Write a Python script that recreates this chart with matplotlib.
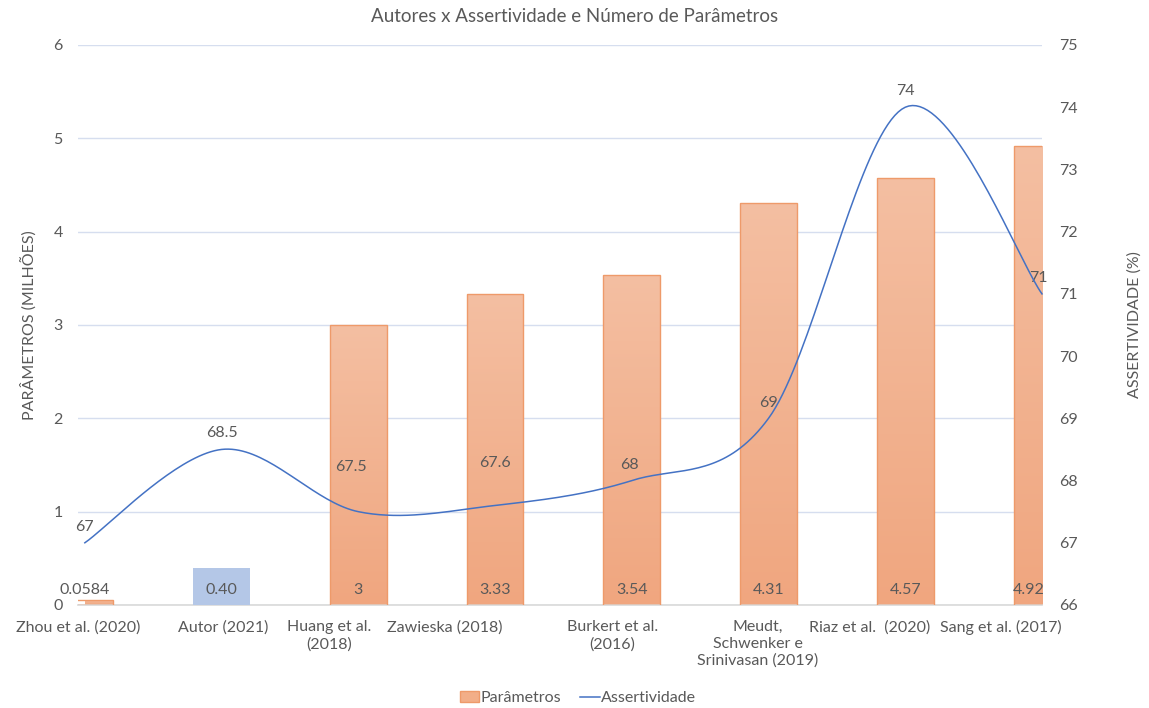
import numpy as np
import matplotlib.pyplot as plt
from matplotlib.patches import Patch
from matplotlib.lines import Line2D
from matplotlib.colors import LinearSegmentedColormap

plt.rcParams['font.family'] = ['Lato', 'DejaVu Sans']

# data
autores = ['Zhou et al. (2020)', 'Autor (2021)', 'Huang et al.\n(2018)', 'Zawieska (2018)',
           'Burkert et al.\n(2016)', 'Meudt,\nSchwenker e\nSrinivasan (2019)',
           'Riaz et al.  (2020)', 'Sang et al. (2017)']
parametros = [0.0584, 0.40, 3, 3.33, 3.54, 4.31, 4.57, 4.92]
param_labels = ['0.0584', '0.40', '3', '3.33', '3.54', '4.31', '4.57', '4.92']
assertividade = [67, 68.5, 67.5, 67.6, 68, 69, 74, 71]
assert_labels = ['67', '68.5', '67.5', '67.6', '68', '69', '74', '71']

# layout bits (not data)
tick_pos = [-0.05, 1.01, 1.79, 2.63, 3.86, 4.92, 5.74, 6.70]
bar_label_x = [0.0, 1, 2, 3, 4, 5, 6, 6.9]
line_label_dy = [16, 16, 45, 42, 16, 15, 16, 16]
line_label_dx = [0, 0, -7, 0, -2, 0, 0, -4]

grey = '#595959'
orange_cmap = LinearSegmentedColormap.from_list('og', ['#F4BFA2', '#F0A67F'])

fig = plt.figure(figsize=(11.49, 7.08), dpi=100)
ax = fig.add_axes([78 / 1149, 1 - 605 / 708, (1042 - 78) / 1149, (605 - 45) / 708])
xmin, xmax = 0, 7

x = np.arange(len(autores))
bars = ax.bar(x, parametros, width=0.414, facecolor='none', edgecolor='#EE9A6A',
              linewidth=1.0, zorder=3)
for i, b in enumerate(bars):
    if autores[i].startswith('Autor'):
        b.set_facecolor('#B4C7E7')
        b.set_edgecolor('none')
        continue
    grad = np.linspace(0, 1, 256).reshape(-1, 1)
    x0 = max(b.get_x(), xmin)
    x1 = min(b.get_x() + b.get_width(), xmax)
    im = ax.imshow(grad, cmap=orange_cmap, aspect='auto', origin='upper',
                   extent=[x0, x1, 0, b.get_height()], zorder=2)
    im.set_clip_path(b)

ax.set_xlim(xmin, xmax)
ax.set_ylim(0, 6)
ax.set_yticks(range(0, 7))
ax.set_axisbelow(True)
ax.grid(axis='y', color='#D6DEEF', linewidth=1)
for s in ['top', 'left', 'right']:
    ax.spines[s].set_visible(False)
ax.spines['bottom'].set_color('#D9D9D9')
ax.spines['bottom'].set_linewidth(1.2)
ax.tick_params(axis='y', length=0, pad=11, labelsize=11.5, labelcolor=grey)
ax.set_xticks(tick_pos)
ax.set_xticklabels(autores, fontsize=11.5, color=grey, linespacing=1.25)
ax.tick_params(axis='x', length=0, pad=11)
ax.set_ylabel('PARÂMETROS (MILHÕES)', fontsize=11.5, color=grey, labelpad=12)

for xi, lab in zip(bar_label_x, param_labels):
    ax.text(xi, 0.16, lab, ha='center', va='center', fontsize=11.5, color=grey, zorder=5)

ax2 = ax.twinx()
ax2.set_ylim(66, 75)
ax2.set_yticks(range(66, 76))
for s in ['top', 'left', 'right', 'bottom']:
    ax2.spines[s].set_visible(False)
ax2.tick_params(axis='y', length=0, pad=12, labelsize=11.5, labelcolor=grey)
ax2.set_ylabel('ASSERTIVIDADE (%)', fontsize=11.5, color=grey, labelpad=36)

# smoothed line (Catmull-Rom, like Excel's smooth line)
px = np.array(x, dtype=float)
py = np.array(assertividade, dtype=float)
ext_x = np.concatenate([[px[0]], px, [px[-1]]])
ext_y = np.concatenate([[py[0]], py, [py[-1]]])
cx, cy = [], []
for i in range(1, len(ext_x) - 2):
    t = np.linspace(0, 1, 40)
    p0, p1, p2, p3 = [np.array([ext_x[j], ext_y[j]]) for j in range(i - 1, i + 3)]
    c1 = p1 + (p2 - p0) / 6
    c2 = p2 - (p3 - p1) / 6
    pts = ((1 - t) ** 3)[:, None] * p1 + (3 * (1 - t) ** 2 * t)[:, None] * c1 + \
          (3 * (1 - t) * t ** 2)[:, None] * c2 + (t ** 3)[:, None] * p2
    cx.extend(pts[:, 0])
    cy.extend(pts[:, 1])
ax2.plot(cx, cy, color='#4472C4', linewidth=1.1, zorder=4, clip_on=False)

for xi, yi, lab, dx, dy in zip(x, assertividade, assert_labels, line_label_dx, line_label_dy):
    ax2.annotate(lab, (xi, yi), xytext=(dx, dy), textcoords='offset pixels',
                 ha='center', va='center', fontsize=11.5, color=grey)

fig.suptitle('Autores x Assertividade e Número de Parâmetros', y=0.988, fontsize=13.5, color=grey)

handles = [Patch(facecolor='#F2AE88', edgecolor='#EE9A6A'),
           Line2D([], [], color='#4472C4', linewidth=1.1)]
fig.legend(handles, ['Parâmetros', 'Assertividade'], loc='center', bbox_to_anchor=(0.503, 0.014),
           ncol=2, frameon=False, fontsize=11.5, labelcolor=grey, handlelength=1.2,
           handletextpad=0.1, columnspacing=1.2)

fig.savefig('out.png', dpi=100)
